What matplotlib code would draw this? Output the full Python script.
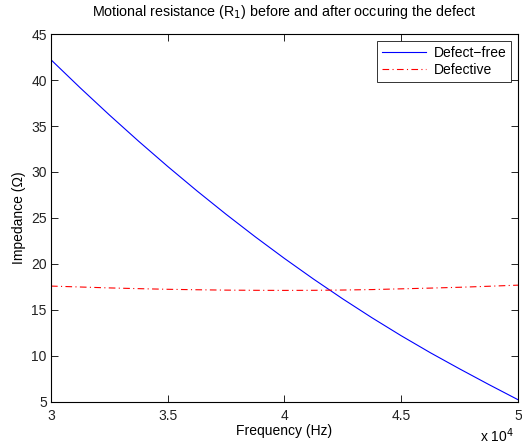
import matplotlib

matplotlib.use("Agg")

import matplotlib.pyplot as plt
import numpy as np

# frequency in Hz
FREQ_HZ = [30000, 31250, 32500, 33750, 35000, 36250, 37500, 38750, 40000,
           41250, 42500, 43750, 45000, 46250, 47500, 48750, 50000]
DEFECT_FREE = [42.2, 39.15, 36.2, 33.35, 30.6, 27.95, 25.4, 22.95, 20.6,
               18.35, 16.2, 14.15, 12.2, 10.35, 8.6, 6.9, 5.25]
DEFECTIVE = [17.6, 17.5, 17.4, 17.32, 17.25, 17.2, 17.16, 17.14, 17.13,
             17.14, 17.17, 17.22, 17.3, 17.38, 17.47, 17.58, 17.7]

X_TICKS = [3, 3.5, 4, 4.5, 5]
X_TICK_LABELS = ["3", "3.5", "4", "4.5", "5"]
Y_TICKS = [5, 10, 15, 20, 25, 30, 35, 40, 45]

plt.rcParams["font.family"] = ["Liberation Sans", "DejaVu Sans"]
plt.rcParams["font.size"] = 10

fig = plt.figure(figsize=(5.22, 4.48), dpi=100)
ax = fig.add_axes([0.0977, 0.1027, 0.8946, 0.8214])

f = np.array(FREQ_HZ) / 1e4
ax.plot(f, DEFECT_FREE, color="#0000ff", linewidth=0.8, label="Defect\u2212free")
ax.plot(f, DEFECTIVE, color="#ff0000", linewidth=0.8, linestyle=(0, (6, 3, 1, 3)),
        label="Defective")

ax.set_xlim(3, 5)
ax.set_ylim(5, 45)
ax.set_xticks(X_TICKS)
ax.set_xticklabels(X_TICK_LABELS)
ax.set_yticks(Y_TICKS)
ax.tick_params(direction="in", length=5, width=0.7, top=True, right=True,
               labelsize=10, colors="#222222")
ax.tick_params(axis="x", pad=5)
ax.tick_params(axis="y", pad=3)
for spine in ax.spines.values():
    spine.set_linewidth(0.8)
    spine.set_color("black")

ax.set_xlabel("Frequency (Hz)", fontsize=10, labelpad=1)
ax.set_ylabel("Impedance (\u03a9)", fontsize=10, labelpad=4)
ax.set_title("Motional resistance (R$_1$) before and after occuring the defect",
             fontsize=10.3, pad=13)
fig.text(0.985, 0.014, "x 10$^4$", ha="right", va="baseline", fontsize=10)

leg = ax.legend(loc="upper right", fontsize=10, frameon=True, fancybox=False,
                handlelength=3.2, borderpad=0.35, labelspacing=0.25,
                handletextpad=0.5, borderaxespad=0.5)
leg.get_frame().set_edgecolor("black")
leg.get_frame().set_linewidth(0.7)

fig.savefig("out.png", dpi=100)
